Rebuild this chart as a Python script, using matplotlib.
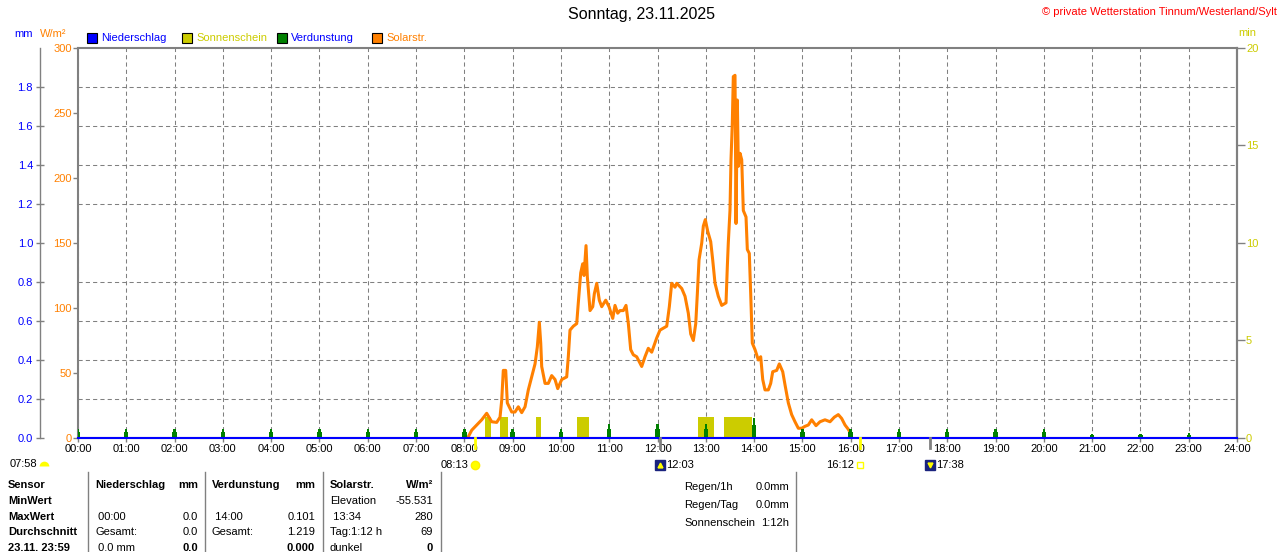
import matplotlib
matplotlib.use("Agg")
import matplotlib.pyplot as plt
from matplotlib.lines import Line2D
from matplotlib.patches import Rectangle
import matplotlib.transforms as mtransforms

plt.rcParams['font.family'] = ['Liberation Sans', 'DejaVu Sans']
plt.rcParams['font.size'] = 8

W, H = 1280, 552

# --- data ---
hours = list(range(24))
precip = [0.0] * 24
evap = [0.048, 0.048, 0.048, 0.048, 0.048, 0.048, 0.048, 0.048, 0.048, 0.048,
        0.048, 0.074, 0.074, 0.074, 0.101, 0.048, 0.048, 0.048, 0.048, 0.048,
        0.048, 0.02, 0.02, 0.025]

sun_start = [8.43, 8.74, 9.48, 10.34, 12.83, 13.38]
sun_end = [8.56, 8.91, 9.58, 10.58, 13.17, 13.95]
sun_min = [1.1, 1.1, 1.1, 1.1, 1.1, 1.1]

solar_t = [8.083, 8.153, 8.256, 8.360, 8.463, 8.567, 8.670, 8.739, 8.774, 8.807,
           8.857, 8.890, 8.981, 9.049, 9.118, 9.188, 9.257, 9.325, 9.395, 9.464,
           9.511, 9.553, 9.582, 9.602, 9.671, 9.739, 9.809, 9.878, 9.934, 10.017,
           10.120, 10.153, 10.188, 10.257, 10.327, 10.360, 10.410, 10.451, 10.478, 10.520,
           10.547, 10.603, 10.659, 10.692, 10.742, 10.795, 10.845, 10.928, 10.996, 11.073,
           11.120, 11.176, 11.224, 11.292, 11.348, 11.396, 11.445, 11.499, 11.569, 11.673,
           11.741, 11.810, 11.880, 11.984, 12.052, 12.191, 12.245, 12.294, 12.363, 12.398,
           12.502, 12.570, 12.638, 12.688, 12.742, 12.792, 12.825, 12.860, 12.916, 12.949,
           12.990, 13.040, 13.102, 13.143, 13.191, 13.259, 13.330, 13.419, 13.446, 13.466,
           13.501, 13.522, 13.549, 13.570, 13.605, 13.626, 13.653, 13.674, 13.709, 13.744,
           13.777, 13.833, 13.860, 13.901, 13.930, 13.963, 14.019, 14.088, 14.137, 14.179,
           14.226, 14.295, 14.344, 14.386, 14.468, 14.522, 14.593, 14.640, 14.709, 14.778,
           14.847, 14.916, 14.986, 15.055, 15.123, 15.193, 15.282, 15.365, 15.468, 15.572,
           15.661, 15.744, 15.814, 15.883, 15.951, 16.007]
solar_w = [1, 6, 10, 14, 19, 12.5, 12, 16, 29, 52,
           52, 27, 20, 20, 24, 19.5, 24, 37, 47, 57,
           70, 89, 73, 55, 42, 42, 48, 45, 38, 45,
           47, 62.5, 83, 86, 88, 104, 127, 134, 125, 148,
           124, 98, 101, 111, 119, 106, 101, 106, 101, 92,
           102, 96, 98, 98, 102, 88, 68, 64, 62.5, 55,
           62.5, 69, 66, 77, 83, 86, 101, 119, 116, 119,
           115, 109, 96, 80, 75, 88, 111, 137, 150, 163,
           168, 159, 151, 137, 119, 109, 102, 104, 132, 150,
           175, 214, 242, 278, 279, 165, 260, 209, 219, 214,
           175, 170, 145, 142, 111, 73, 68, 60, 62.5, 45,
           37, 37, 42, 51, 52, 57, 51, 41, 27, 18,
           12.5, 7.5, 7.5, 9, 10, 14, 9.5, 12.5, 14, 12.5,
           16, 18, 15, 10, 6.7, 3]

# sunrise / moon events (label, hour, kind)
events = [("08:13", 8.217, "sunrise"), ("12:03", 12.05, "moonrise"),
          ("16:12", 16.2, "sunset"), ("17:38", 17.633, "moonset")]

GRAY = '#808080'
ORANGE = '#FF8000'
BLUE = '#0000FF'
YELLOW = '#CCCC00'
GREEN = '#008000'


def fx(x):
    return x / W


def fy(y):
    return 1 - y / H


fig = plt.figure(figsize=(W / 100, H / 100), dpi=100)
ax = fig.add_axes([fx(78), fy(438), (1237 - 78) / W, 390 / H])

# base axis: W/m2 scale and grid
ax.set_xlim(0, 24)
ax.set_ylim(0, 300)
ax.set_xticks(range(25))
ax.set_xticklabels([f"{h:02d}:00" for h in range(25)])
ax.set_yticks(range(0, 301, 50))
ax.set_yticks(range(0, 301, 30), minor=True)
ax.tick_params(axis='y', which='major', colors=GRAY, labelcolor=ORANGE,
               direction='out', length=3.6, width=1, pad=1, labelsize=8)
ax.tick_params(axis='y', which='minor', length=0)
ax.tick_params(axis='x', colors=GRAY, labelcolor='black', direction='out',
               length=3, width=1, pad=1.5, labelsize=8)
ax.grid(True, axis='x', which='major', color=GRAY, linestyle=(0, (4, 3)), lw=0.75)
ax.grid(True, axis='y', which='minor', color=GRAY, linestyle=(0, (4, 3)), lw=0.75)
for s in ax.spines.values():
    s.set_color(GRAY)
    s.set_linewidth(1.5)

# sunshine minutes (right axis)
ax_min = ax.twinx()
ax_min.set_ylim(0, 20)
ax_min.set_yticks(range(0, 21, 5))
ax_min.bar(sun_start, sun_min, width=[e - s for s, e in zip(sun_start, sun_end)],
           align='edge', color=YELLOW, linewidth=0)
ax_min.tick_params(axis='y', colors=GRAY, labelcolor=YELLOW, direction='out',
                   length=5.5, width=1, pad=1, labelsize=8)
for k, s in ax_min.spines.items():
    s.set_visible(k == 'right')
    s.set_color(GRAY)
    s.set_linewidth(1.5)

# solar radiation
ax_sol = ax.twinx()
ax_sol.set_ylim(0, 300)
ax_sol.set_yticks([])
for s in ax_sol.spines.values():
    s.set_visible(False)
ax_sol.plot(solar_t, solar_w, color=ORANGE, lw=2.2, solid_joinstyle='round')

# evaporation + precipitation (mm, second left axis)
ax_mm = ax.twinx()
ax_mm.set_ylim(0, 2)
ax_mm.set_yticks([0, 0.2, 0.4, 0.6, 0.8, 1.0, 1.2, 1.4, 1.6, 1.8])
ax_mm.set_yticklabels(["0.0", "0.2", "0.4", "0.6", "0.8", "1.0", "1.2", "1.4", "1.6", "1.8"])
ax_mm.yaxis.tick_left()
ax_mm.spines['left'].set_position(('axes', -38 / 1159))
for k, s in ax_mm.spines.items():
    s.set_visible(k == 'left')
    s.set_color(GRAY)
    s.set_linewidth(1)
ax_mm.tick_params(axis='y', colors=GRAY, labelcolor=BLUE, direction='inout',
                  length=6, width=1, pad=2, labelsize=8)
ax_mm.bar(hours, [v * 0.65 for v in evap], width=0.09, color=GREEN, linewidth=0)
ax_mm.bar(hours, evap, width=0.05, color=GREEN, linewidth=0)
ax_mm.plot([0] + [h + 1 for h in hours], [precip[0]] + precip, color=BLUE, lw=1.5,
           drawstyle='steps-pre', clip_on=False)

ax_min.set_zorder(1)
ax_sol.set_zorder(2)
ax_mm.set_zorder(3)

# sun / moon event marks below the axis
tr = mtransforms.blended_transform_factory(ax.transData, ax.transAxes)
ev_y = (438 - 465) / 390
for label, t, kind in events:
    mark_color = '#FFFF00' if kind.startswith('sun') else GRAY
    ax_mm.add_line(Line2D([t, t], [0, -0.026], transform=tr, color=mark_color,
                          lw=2, clip_on=False))
    if kind == 'sunrise':
        ax_mm.plot(t, ev_y, 'o', ms=6, color='#FFFF00', mec='#FFEE00', transform=tr, clip_on=False)
        ax_mm.text(t - 0.13, ev_y, label, transform=tr, ha='right', va='center', fontsize=8)
    elif kind == 'sunset':
        ax_mm.plot(t, ev_y, 's', ms=4.5, mfc='white', mec='#FFFF00', mew=1, transform=tr, clip_on=False)
        ax_mm.text(t - 0.13, ev_y, label, transform=tr, ha='right', va='center', fontsize=8)
    else:
        ax_mm.plot(t, ev_y, 's', ms=7.5, color='#1A237E', transform=tr, clip_on=False)
        ax_mm.plot(t, ev_y, '^' if kind == 'moonrise' else 'v', ms=3.5, color='#FFFF00',
                   transform=tr, clip_on=False)
        ax_mm.text(t + 0.13, ev_y, label, transform=tr, ha='left', va='center', fontsize=8)

fig.text(fx(10), fy(464), "07:58", ha='left', va='center', fontsize=8)
fig.add_artist(Line2D([fx(44)], [fy(466)], marker='o', ms=7, fillstyle='top',
                      markerfacecoloralt='none', color='#FFFF00', mec='none'))

# title / header
fig.text(fx(642), fy(15), "Sonntag, 23.11.2025", ha='center', va='center', fontsize=11.5)
fig.text(fx(1277), fy(12), "© private Wetterstation Tinnum/Westerland/Sylt", ha='right',
         va='center', fontsize=8, color='red')
fig.text(fx(14), fy(34), "mm", ha='left', va='center', color=BLUE, fontsize=8)
fig.text(fx(40), fy(34), "W/m²", ha='left', va='center', color=ORANGE, fontsize=8)
fig.text(fx(1238), fy(33), "min", ha='left', va='center', color=YELLOW, fontsize=8)

legend_items = [(87, BLUE, "Niederschlag", BLUE), (182, YELLOW, "Sonnenschein", YELLOW),
                (277, GREEN, "Verdunstung", BLUE), (372, ORANGE, "Solarstr.", ORANGE)]
for x0, fc, txt, tc in legend_items:
    fig.add_artist(Rectangle((fx(x0), fy(43)), 10 / W, 10 / H, facecolor=fc,
                             edgecolor='black', lw=0.8, transform=fig.transFigure))
    fig.text(fx(x0 + 14), fy(38), txt, ha='left', va='center', color=tc, fontsize=8)

# summary table
for xl in [88, 205, 323, 441, 796]:
    fig.add_artist(Line2D([fx(xl), fx(xl)], [fy(472), 0], color=GRAY, lw=1))

rows_y = [485, 501, 517, 532, 548]
for lab, y in zip(["Sensor", "MinWert", "MaxWert", "Durchschnitt", "23.11. 23:59"], rows_y):
    fig.text(fx(8), fy(y), lab, ha='left', va='center', fontweight='bold', fontsize=8)

table = [
    (95, 198, [("Niederschlag", "mm", True, True), ("", "", False, False),
               (" 00:00", "0.0", False, False), ("Gesamt:", "0.0", False, False),
               (" 0.0 mm", "0.0", False, True)]),
    (212, 315, [("Verdunstung", "mm", True, True), ("", "", False, False),
                (" 14:00", "0.101", False, False), ("Gesamt:", "1.219", False, False),
                ("", "0.000", False, True)]),
    (330, 433, [("Solarstr.", "W/m²", False, True), ("Elevation", "-55.531", False, False),
                (" 13:34", "280", False, False), ("Tag:1:12 h", "69", False, False),
                ("dunkel", "0", False, True)]),
]
for xl, xr, cells in table:
    for (lt, rt, lb, rb), y in zip(cells, rows_y):
        fig.text(fx(xl), fy(y), lt, ha='left', va='center', fontsize=8,
                 fontweight='bold' if (lb or (y == rows_y[0])) else 'normal')
        fig.text(fx(xr), fy(y), rt, ha='right', va='center', fontsize=8,
                 fontweight='bold' if rb else 'normal')

for (lt, rt), y in zip([("Regen/1h", "0.0mm"), ("Regen/Tag", "0.0mm"),
                        ("Sonnenschein", "1:12h")], [487, 505, 523]):
    fig.text(fx(684), fy(y), lt, ha='left', va='center', fontsize=8)
    fig.text(fx(789), fy(y), rt, ha='right', va='center', fontsize=8)

fig.savefig("out.png", dpi=100)
